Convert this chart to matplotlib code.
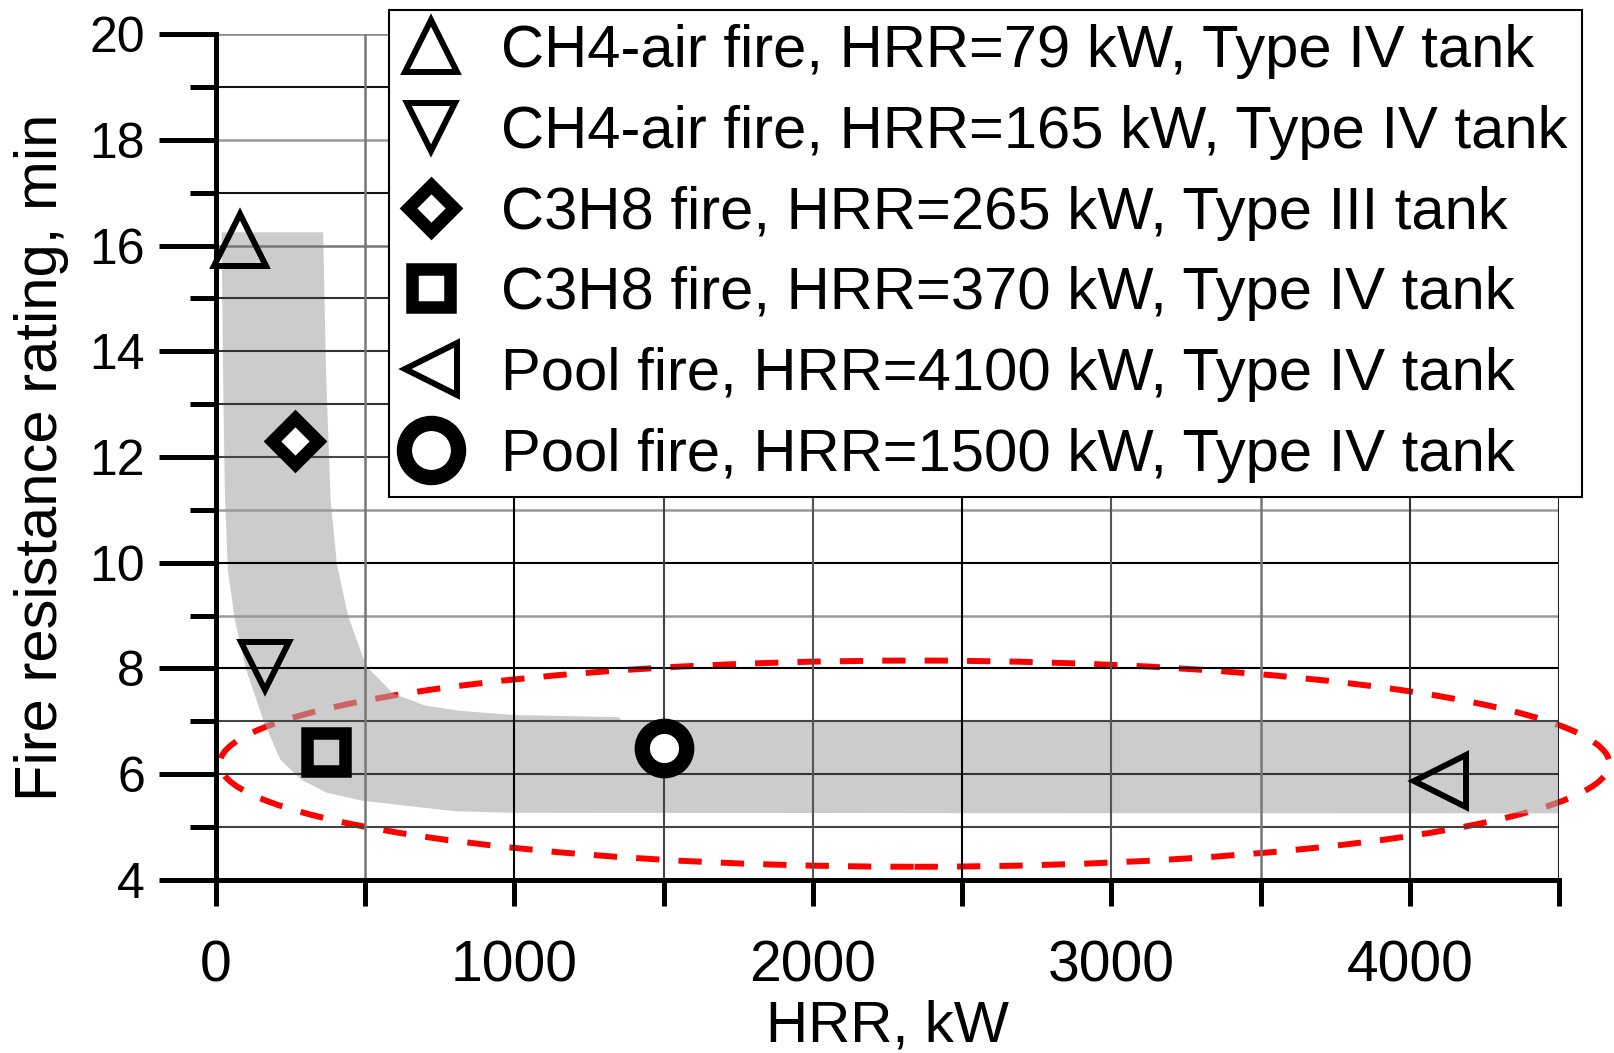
import matplotlib.pyplot as plt
from matplotlib.patches import Ellipse

plt.rcParams['font.family'] = ['Liberation Sans', 'DejaVu Sans']

# fire test results
labels = ['CH4-air fire, HRR=79 kW, Type IV tank',
          'CH4-air fire, HRR=165 kW, Type IV tank',
          'C3H8 fire, HRR=265 kW, Type III tank',
          'C3H8 fire, HRR=370 kW, Type IV tank',
          'Pool fire, HRR=4100 kW, Type IV tank',
          'Pool fire, HRR=1500 kW, Type IV tank']
hrr = [79, 165, 265, 370, 4100, 1500]
rating = [16.1, 8.05, 12.3, 6.42, 5.88, 6.5]

# grey band outline (upper edge then lower edge)
band_x = [19, 359, 369, 384, 405, 443, 503, 593, 700, 817, 1000, 1350, 1360, 4500,
          4500, 1000, 800, 490, 371, 285, 215, 160, 100, 63, 40, 30, 24]
band_y = [16.25, 16.25, 13.6, 11.2, 9.98, 8.99, 8.05, 7.53, 7.3, 7.2, 7.12, 7.08, 7.0, 7.0,
          5.26, 5.27, 5.3, 5.5, 5.65, 5.9, 6.28, 7.0, 8.0, 8.93, 9.85, 11.3, 13.5]

# red dashed ellipse: centre, width, height
ell_center = (2341, 6.2)
ell_width = 4656
ell_height = 3.9

# grid lines
hgrid = [5, 6, 7, 8, 9, 10, 11, 12, 13, 14, 15, 16, 17, 18, 19, 20]
hgrid_col = ['#444', '#333', '#444', '#000', '#999', '#000', '#999', '#444',
             '#333', '#333', '#333', '#777', '#111', '#999', '#111', '#888']
vgrid = [500, 1000, 1500, 2000, 2500, 3000, 3500, 4000, 4500]
vgrid_col = ['#777', '#000', '#444', '#555', '#000', '#555', '#777', '#333', '#222']

marker_styles = [('^', 37, 4.3, 'none'), ('v', 35, 4.3, 'none'), ('D', 23, 9.0, 'white'),
                 ('s', 27, 9.0, 'none'), ('<', 38, 4.3, 'none'), ('o', 32, 11.0, 'white')]

fig = plt.figure(figsize=(16.14, 10.53), dpi=100)
ax = fig.add_axes([0.1338, 0.1643, 0.9659 - 0.1338, 0.9677 - 0.1643])

ax.add_patch(Ellipse(ell_center, ell_width, ell_height, fill=False, edgecolor='red',
                     linewidth=4.3, linestyle=(0, (3.9, 3.2)), clip_on=False, zorder=1))
ax.fill(band_x, band_y, color=(170 / 255, 170 / 255, 170 / 255), alpha=0.6,
        linewidth=0, zorder=1.5)

for y, c in zip(hgrid, hgrid_col):
    ax.axhline(y, color=c, linewidth=1.8 if c in ('#999', '#888', '#777') else 1.5, zorder=2)
for x, c in zip(vgrid, vgrid_col):
    ax.axvline(x, color=c, linewidth=1.8 if c in ('#999', '#888', '#777') else 1.5, zorder=2)

for i in range(len(hrr)):
    m, ms, mew, fc = marker_styles[i]
    ax.plot(hrr[i], rating[i], linestyle='none', marker=m, markersize=ms,
            markeredgewidth=mew, markeredgecolor='black', markerfacecolor=fc,
            label=labels[i], zorder=3, clip_on=False)

ax.set_xlim(0, 4500)
ax.set_ylim(4, 20)
ax.set_xticks([0, 1000, 2000, 3000, 4000])
ax.set_xticks([500, 1500, 2500, 3500, 4500], minor=True)
ax.set_yticks([4, 6, 8, 10, 12, 14, 16, 18, 20])
ax.set_yticks([5, 7, 9, 11, 13, 15, 17, 19], minor=True)

ax.spines['top'].set_visible(False)
ax.spines['right'].set_visible(False)
ax.spines['left'].set_linewidth(3.6)
ax.spines['bottom'].set_linewidth(3.6)
ax.spines['left'].set_zorder(4)
ax.spines['bottom'].set_zorder(4)

ax.tick_params(axis='x', which='both', direction='out', length=19, width=3.6,
               labelsize=41, pad=24)
ax.tick_params(axis='y', which='major', direction='out', length=41, width=3.6,
               labelsize=36, pad=10)
ax.tick_params(axis='y', which='minor', direction='out', length=19, width=3.6)

ax.set_xlabel('HRR, kW', fontsize=42, labelpad=4)
ax.set_ylabel('Fire resistance rating, min', fontsize=43, labelpad=15)

leg = ax.legend(loc='upper left', bbox_to_anchor=(389 / 1614, 1 - 10 / 1053),
                bbox_transform=fig.transFigure, borderaxespad=0, fontsize=43,
                frameon=True, fancybox=False, framealpha=1, edgecolor='black',
                borderpad=0.24, labelspacing=0.43, handlelength=0.94,
                handletextpad=0.69)
leg.get_frame().set_linewidth(1.5)
leg.set_zorder(10)
leg.legend_handles[5].set_markersize(39)

plt.savefig('out.png', dpi=100)
